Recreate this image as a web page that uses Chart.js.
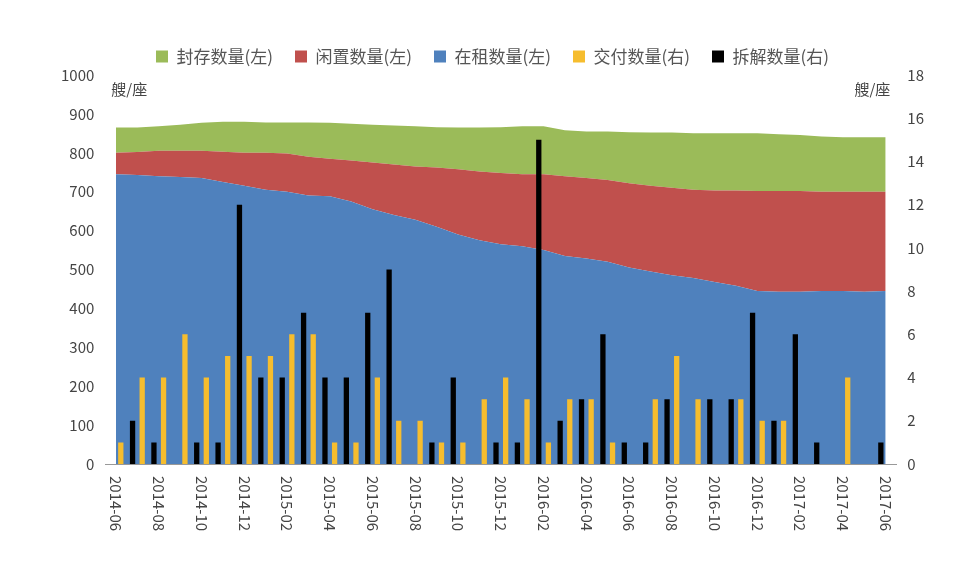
<!DOCTYPE html>
<html><head><meta charset="utf-8">
<script src="https://cdn.jsdelivr.net/npm/chart.js@4"></script>
<style>body{margin:0;background:#fff}#wrap{width:963px;height:586px}</style>
</head><body><div id="wrap"><canvas id="c"></canvas></div>
<script>
// months 2014-06 .. 2017-06
const months = [];
for (let y = 2014, m = 6; y < 2017 || (y === 2017 && m <= 6); m++) {
    if (m > 12) { m = 1; y++; }
    months.push(y + '-' + String(m).padStart(2, '0'));
}
const inService = [745,743,740,738,735,725,715,705,700,690,688,675,655,640,628,610,590,575,565,560,550,535,528,520,505,495,485,478,468,458,445,443,443,445,445,443,445];
const idleTop  = [800,802,805,805,805,803,800,800,798,790,785,780,775,770,765,762,758,752,748,745,745,740,735,730,722,715,710,705,703,703,702,702,702,700,700,700,700];
const totalTop = [865,865,868,872,877,880,880,878,878,878,877,875,872,870,868,866,865,865,866,868,868,858,855,855,853,852,852,850,850,850,850,848,846,842,840,840,840];
const idle = idleTop.map((v, i) => v - inService[i]);
const stored = totalTop.map((v, i) => v - idleTop[i]);
const delivered = [1,4,4,6,4,5,5,5,6,6,1,1,4,2,2,1,1,3,4,3,1,3,3,1,0,3,5,3,0,3,2,2,0,0,4,0,0];
const scrapped  = [0,2,1,0,1,1,12,4,4,7,4,4,7,9,0,1,4,0,1,1,15,2,3,6,1,1,3,0,3,3,7,2,6,1,0,0,1];
const leftTicks = [0,100,200,300,400,500,600,700,800,900,1000];
const rightTicks = [0,2,4,6,8,10,12,14,16,18];
const legendOrder = ['封存数量(左)', '闲置数量(左)', '在租数量(左)', '交付数量(右)', '拆解数量(右)'];

const GREEN = '#9bbb59', RED = '#c0504d', BLUE = '#4f81bd', GOLD = '#f6bd2e', BLACK = '#000';
const FONT = '"Noto Sans CJK SC", sans-serif';

// vertical month labels reading top to bottom, every 2 months
const xLabels = {
    id: 'xLabels',
    afterDraw(chart) {
        const ctx = chart.ctx, x = chart.scales.x, bottom = chart.chartArea.bottom;
        ctx.save();
        ctx.fillStyle = '#444';
        ctx.font = '15px ' + FONT;
        ctx.textBaseline = 'middle';
        months.forEach((lab, i) => {
            if (i % 2) return;
            ctx.save();
            ctx.translate(x.getPixelForValue(i), bottom + 12);
            ctx.rotate(Math.PI / 2);
            ctx.fillText(lab, 0, 0);
            ctx.restore();
        });
        ctx.fillText('艘/座', chart.chartArea.left + 6, chart.chartArea.top + 14);
        ctx.textAlign = 'right';
        ctx.fillText('艘/座', chart.chartArea.right - 6, chart.chartArea.top + 14);
        ctx.restore();
    }
};

new Chart(document.getElementById('c'), {
    data: {
        labels: months,
        datasets: [
            { type: 'line', label: '在租数量(左)', data: inService, backgroundColor: BLUE, borderWidth: 0, pointRadius: 0, fill: 'origin', stack: 'a', yAxisID: 'y', order: 3 },
            { type: 'line', label: '闲置数量(左)', data: idle, backgroundColor: RED, borderWidth: 0, pointRadius: 0, fill: '-1', stack: 'a', yAxisID: 'y', order: 4 },
            { type: 'line', label: '封存数量(左)', data: stored, backgroundColor: GREEN, borderWidth: 0, pointRadius: 0, fill: '-1', stack: 'a', yAxisID: 'y', order: 5 },
            { type: 'bar', label: '交付数量(右)', data: delivered, backgroundColor: GOLD, yAxisID: 'y1', order: 1, barPercentage: 0.55, categoryPercentage: 0.9 },
            { type: 'bar', label: '拆解数量(右)', data: scrapped, backgroundColor: BLACK, yAxisID: 'y1', order: 0, barPercentage: 0.55, categoryPercentage: 0.9 }
        ]
    },
    options: {
        responsive: true, maintainAspectRatio: false, animation: false,
        layout: { padding: { left: 58, right: 36, top: 26, bottom: 0 } },
        plugins: {
            tooltip: { enabled: false },
            legend: {
                labels: { boxWidth: 12, boxHeight: 12, color: '#555', font: { size: 17, family: FONT }, padding: 22,
                          sort: (a, b) => legendOrder.indexOf(a.text) - legendOrder.indexOf(b.text) }
            }
        },
        scales: {
            x: { offset: true, grid: { display: false }, border: { color: '#999' },
                 ticks: { display: false }, afterFit(s) { s.height = 122; } },
            y: { stacked: true, min: 0, max: 1000, position: 'left', grid: { display: false }, border: { display: false },
                 afterBuildTicks(s) { s.ticks = leftTicks.map(v => ({ value: v })); },
                 ticks: { color: '#444', font: { size: 15, family: FONT }, callback: v => String(v) } },
            y1: { stacked: false, min: 0, max: 18, position: 'right', grid: { display: false }, border: { display: false },
                  afterBuildTicks(s) { s.ticks = rightTicks.map(v => ({ value: v })); },
                  ticks: { color: '#444', font: { size: 15, family: FONT } } }
        }
    },
    plugins: [xLabels]
});
</script></body></html>
